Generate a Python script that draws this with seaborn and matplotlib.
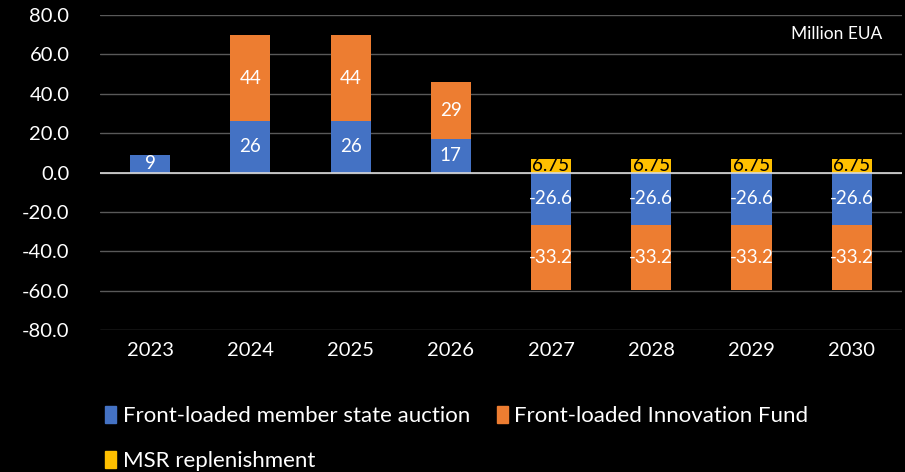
import matplotlib
matplotlib.use("Agg")
import matplotlib.pyplot as plt
import seaborn as sns
import pandas as pd
from matplotlib.patches import Patch
from matplotlib.ticker import FormatStrFormatter

# values (Million EUA)
years = ["2023", "2024", "2025", "2026", "2027", "2028", "2029", "2030"]
member_state = [9, 26, 26, 17, -26.6, -26.6, -26.6, -26.6]
innovation_fund = [0, 44, 44, 29, -33.2, -33.2, -33.2, -33.2]
msr = [0, 0, 0, 0, 6.75, 6.75, 6.75, 6.75]

blue = "#4472c4"
orange = "#ed7d31"
yellow = "#ffc000"

sns.set_style("dark")
plt.rcParams["font.family"] = ["Lato", "DejaVu Sans"]

df = pd.DataFrame({"year": years, "ms": member_state, "inf": innovation_fund, "msr": msr})
df["stack"] = df["ms"] + df["inf"]

fig = plt.figure(figsize=(9.05, 4.72), dpi=100, facecolor="black")
ax = fig.add_axes([0.1105, 0.301, 0.886, 0.667])
ax.set_facecolor("black")

# overlay: total (orange) first, then blue from zero, yellow from zero
bar_kw = dict(width=0.4, saturation=1, ax=ax, edgecolor="none", linewidth=0)
sns.barplot(data=df, x="year", y="stack", color=orange, zorder=3, **bar_kw)
sns.barplot(data=df, x="year", y="ms", color=blue, zorder=4, **bar_kw)
sns.barplot(data=df, x="year", y="msr", color=yellow, zorder=4, **bar_kw)

for i, row in df.iterrows():
    ax.text(i, row["ms"] / 2, f"{row['ms']:g}", color="white", ha="center", va="center",
            fontsize=13.5, zorder=6)
    if row["inf"] != 0:
        ax.text(i, row["ms"] + row["inf"] / 2, f"{row['inf']:g}", color="white", ha="center",
                va="center", fontsize=13.5, zorder=6)
    if row["msr"] != 0:
        ax.text(i, row["msr"] / 2 + 0.3, f"{row['msr']:g}", color="black", ha="center",
                va="center", fontsize=13.5, zorder=6)

ax.set_ylim(-80, 80)
ax.set_yticks(range(-80, 81, 20))
ax.yaxis.set_major_formatter(FormatStrFormatter("%.1f"))
ax.set_xlim(-0.5, len(years) - 0.5)
ax.grid(axis="y", color="#595959", linewidth=1, zorder=0)
ax.grid(axis="x", visible=False)
ax.axhline(0, color="#d9d9d9", linewidth=1.2, zorder=5)
for s in ax.spines.values():
    s.set_visible(False)
ax.tick_params(axis="both", colors="white", labelsize=14.5, length=0)
ax.tick_params(axis="y", pad=22)
ax.tick_params(axis="x", pad=9)
ax.set_xlabel("")
ax.set_ylabel("")

ax.text(0.975, 0.94, "Million EUA", transform=ax.transAxes, color="white", ha="right",
        va="center", fontsize=12.5)

# legend fills column by column: blue, yellow | orange
handles = [Patch(color=blue), Patch(color=yellow), Patch(color=orange)]
labels = ["Front-loaded member state auction", "MSR replenishment", "Front-loaded Innovation Fund"]
fig.legend(handles, labels, ncol=2, loc="upper left", bbox_to_anchor=(0.116, 0.14),
           frameon=False, fontsize=16, labelcolor="white", handlelength=0.5,
           handleheight=0.8, handletextpad=0.3, columnspacing=1.2, labelspacing=1.1,
           borderaxespad=0, borderpad=0)

fig.savefig("out.png", dpi=100, facecolor="black")
